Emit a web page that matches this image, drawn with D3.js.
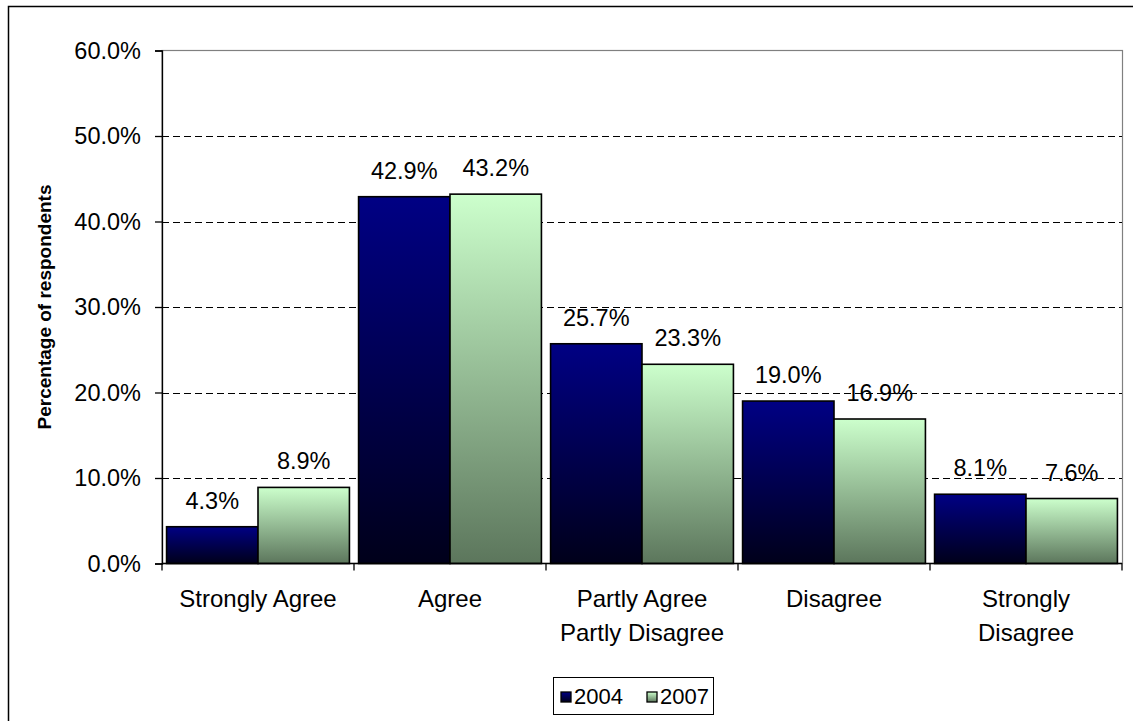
<!DOCTYPE html>
<html>
<head>
<meta charset="utf-8">
<script src="https://cdn.jsdelivr.net/npm/d3@7"></script>
<style>
  html, body { margin: 0; padding: 0; background: #fff; }
  svg { display: block; font-family: Arial, "Liberation Sans", sans-serif; }
</style>
</head>
<body>
<svg id="chart" width="1133" height="721"></svg>
<script>
// Survey responses by year
const categories = [
  ["Strongly Agree"],
  ["Agree"],
  ["Partly Agree", "Partly Disagree"],
  ["Disagree"],
  ["Strongly", "Disagree"]
];
const seriesNames = ["2004", "2007"];
const values2004 = [4.3, 42.9, 25.7, 19.0, 8.1];
const values2007 = [8.9, 43.2, 23.3, 16.9, 7.6];
const yTicks = [0, 10, 20, 30, 40, 50, 60];

const svg = d3.select("#chart");
const plot = { left: 162, right: 1122, top: 50.5, bottom: 563.5 };

// Gradients for the two series
const defs = svg.append("defs");
const gBlue = defs.append("linearGradient").attr("id", "gradBlue")
  .attr("x1", 0).attr("y1", 0).attr("x2", 0).attr("y2", 1);
gBlue.append("stop").attr("offset", "0%").attr("stop-color", "#000084");
gBlue.append("stop").attr("offset", "100%").attr("stop-color", "#00001a");
const gGreen = defs.append("linearGradient").attr("id", "gradGreen")
  .attr("x1", 0).attr("y1", 0).attr("x2", 0).attr("y2", 1);
gGreen.append("stop").attr("offset", "0%").attr("stop-color", "#ccffcc");
gGreen.append("stop").attr("offset", "100%").attr("stop-color", "#5c765c");
const fills = ["url(#gradBlue)", "url(#gradGreen)"];

// Outer chart frame
svg.append("rect")
  .attr("x", 8.5).attr("y", 6.5).attr("width", 1150).attr("height", 740)
  .attr("fill", "#fff").attr("stroke", "#000").attr("stroke-width", 1.5);

const x0 = d3.scaleBand()
  .domain(d3.range(categories.length))
  .range([plot.left, plot.right])
  .paddingInner(0).paddingOuter(0);
const barW = x0.bandwidth() / 2.1;
const x1 = d3.scaleBand().domain([0, 1])
  .range([x0.bandwidth() * 0.05 / 2.1, x0.bandwidth() * 0.05 / 2.1 + barW * 2]);

const y = d3.scaleLinear().domain([0, 60]).range([plot.bottom, plot.top]);

// Plot area border
svg.append("rect")
  .attr("x", plot.left).attr("y", plot.top)
  .attr("width", plot.right - plot.left + 0.5).attr("height", plot.bottom - plot.top)
  .attr("fill", "none").attr("stroke", "#808080").attr("stroke-width", 1.2);

// Dashed gridlines
svg.append("g").selectAll("line")
  .data(yTicks.filter(t => t > 0 && t < 60))
  .join("line")
  .attr("x1", plot.left).attr("x2", plot.right)
  .attr("y1", d => Math.round(y(d)) + 0.5).attr("y2", d => Math.round(y(d)) + 0.5)
  .attr("stroke", "#000").attr("stroke-width", 1)
  .attr("stroke-dasharray", "7,4");

// Y axis
const yAxis = d3.axisLeft(y).tickValues(yTicks)
  .tickFormat(d => d.toFixed(1) + "%").tickSize(7).tickPadding(14);
const gy = svg.append("g").attr("transform", `translate(${plot.left},0)`).call(yAxis);
gy.select(".domain").attr("stroke", "#000").attr("stroke-width", 1.3);
gy.selectAll(".tick line").attr("stroke", "#000").attr("stroke-width", 1.3);
gy.selectAll(".tick text").attr("font-size", 23.5).attr("fill", "#000")
  .attr("font-family", "Arial, 'Liberation Sans', sans-serif");

// Bars
const groups = svg.append("g").selectAll("g")
  .data(categories.map((c, i) => i))
  .join("g")
  .attr("transform", i => `translate(${x0(i)},0)`);

const seriesVals = [values2004, values2007];
groups.selectAll("rect")
  .data(i => seriesVals.map((vals, s) => ({ s, v: vals[i] })))
  .join("rect")
  .attr("x", d => x1(d.s))
  .attr("width", x1.bandwidth())
  .attr("y", d => y(d.v))
  .attr("height", d => y(0) - y(d.v))
  .attr("fill", d => fills[d.s])
  .attr("stroke", "#000").attr("stroke-width", 1.6);

// Value labels
groups.selectAll("text.val")
  .data(i => seriesVals.map((vals, s) => ({ s, v: vals[i] })))
  .join("text").attr("class", "val")
  .attr("x", d => x1(d.s) + x1.bandwidth() / 2)
  .attr("y", d => y(d.v) - 18)
  .attr("text-anchor", "middle")
  .attr("font-size", 23.5).attr("fill", "#000")
  .text(d => d.v.toFixed(1) + "%");

// X axis line and ticks
svg.append("line")
  .attr("x1", plot.left).attr("x2", plot.right)
  .attr("y1", plot.bottom).attr("y2", plot.bottom)
  .attr("stroke", "#000").attr("stroke-width", 1.3);
svg.append("g").selectAll("line")
  .data(d3.range(categories.length + 1))
  .join("line")
  .attr("x1", i => i < categories.length ? x0(i) : plot.right)
  .attr("x2", i => i < categories.length ? x0(i) : plot.right)
  .attr("y1", plot.bottom).attr("y2", plot.bottom + 7)
  .attr("stroke", "#000").attr("stroke-width", 1.3);

// Category labels
svg.append("g").selectAll("text")
  .data(categories.map((c, i) => ({ c, i })))
  .join("text")
  .attr("text-anchor", "middle")
  .attr("font-size", 24).attr("fill", "#000")
  .attr("x", d => x0(d.i) + x0.bandwidth() / 2)
  .attr("y", 607)
  .each(function(d) {
    d3.select(this).selectAll("tspan").data(d.c).join("tspan")
      .attr("x", x0(d.i) + x0.bandwidth() / 2)
      .attr("dy", (t, k) => k === 0 ? 0 : 33.5)
      .text(t => t);
  });

// Y axis title
svg.append("text")
  .attr("transform", `translate(51,${(plot.top + plot.bottom) / 2}) rotate(-90)`)
  .attr("text-anchor", "middle")
  .attr("font-size", 19).attr("font-weight", "bold").attr("fill", "#000")
  .text("Percentage of respondents");

// Legend
const legend = svg.append("g").attr("transform", "translate(553,677)");
legend.append("rect").attr("x", 0.5).attr("y", 0.5).attr("width", 160).attr("height", 37)
  .attr("fill", "#fff").attr("stroke", "#000").attr("stroke-width", 1);
const items = legend.selectAll("g.item").data(seriesNames).join("g")
  .attr("transform", (d, i) => `translate(${8 + i * 86},0)`);
items.append("rect")
  .attr("x", 0).attr("y", 15).attr("width", 10).attr("height", 10)
  .attr("fill", (d, i) => fills[i]).attr("stroke", "#000").attr("stroke-width", 1.3);
items.append("text")
  .attr("x", 13).attr("y", 27)
  .attr("font-size", 22).attr("fill", "#000")
  .text(d => d);
</script>
</body>
</html>
